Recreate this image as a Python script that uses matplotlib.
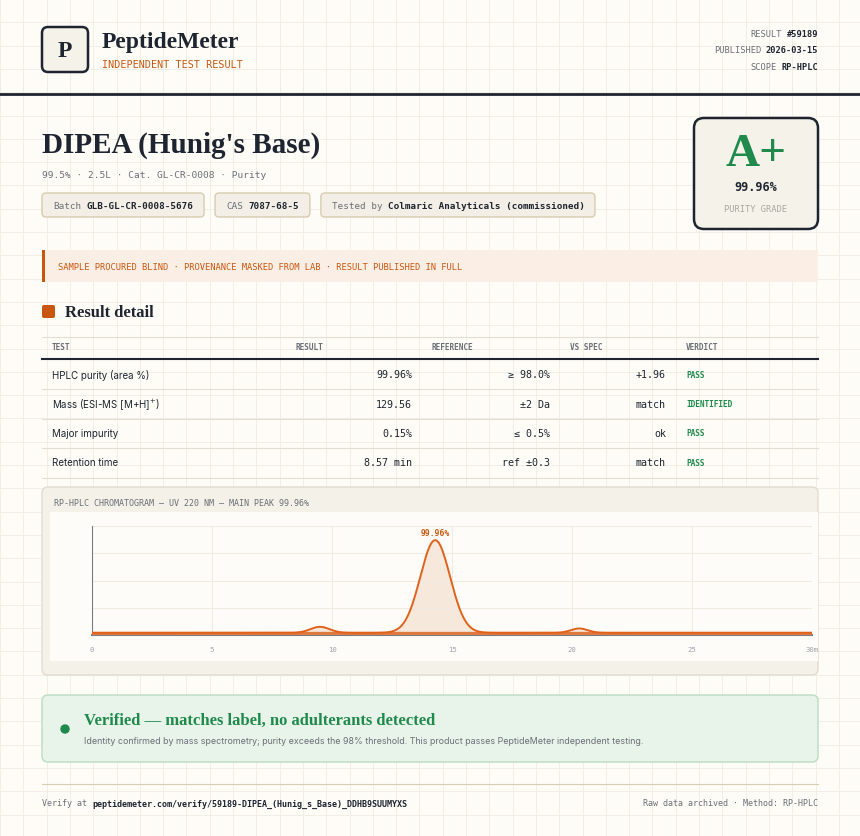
import numpy as np
import matplotlib.pyplot as plt
from matplotlib.patches import FancyBboxPatch, Rectangle

# ---- data ----
meta_labels = ["RESULT", "PUBLISHED", "SCOPE"]
meta_values = ["#59189", "2026-03-15", "RP-HPLC"]
chips = [("Batch", "GLB-GL-CR-0008-5676"), ("CAS", "7087-68-5"),
         ("Tested by", "Colmaric Analyticals (commissioned)")]
table_cols = ["TEST", "RESULT", "REFERENCE", "VS SPEC", "VERDICT"]
tests = ["HPLC purity (area %)", "Mass (ESI-MS [M+H]$^{+}$)", "Major impurity", "Retention time"]
results = ["99.96%", "129.56", "0.15%", "8.57 min"]
references = ["≥ 98.0%", "±2 Da", "≤ 0.5%", "ref ±0.3"]
vs_spec = ["+1.96", "match", "ok", "match"]
verdicts = ["PASS", "IDENTIFIED", "PASS", "PASS"]
# chromatogram peaks: retention time (min), height, width (sigma)
peak_rt = [9.5, 14.3, 20.3]
peak_h = [0.22, 3.4, 0.16]
peak_w = [0.4, 0.62, 0.35]
baseline = 0.08
x_ticks = [0, 5, 10, 15, 20, 25, 30]

W, H = 860, 837
DARK = "#1e2530"; ORANGE = "#c9560f"; GREEN = "#1f8a4c"; GREY = "#6b6f76"
MONO = "DejaVu Sans Mono"; SERIF = "Liberation Serif"; SANS = "Inter"

fig = plt.figure(figsize=(8.6, 8.37), dpi=100, facecolor="#fdfcf7")
bg = fig.add_axes([0, 0, 1, 1])
bg.set_xlim(0, W); bg.set_ylim(H, 0); bg.axis("off")

for gx in np.arange(0, W, 23.3):
    bg.axvline(gx, color="#efece3", lw=0.6, zorder=0)
for gy in np.arange(0, H, 23.3):
    bg.axhline(gy, color="#efece3", lw=0.6, zorder=0)

def box(x0, y0, x1, y1, fc, ec, lw=1, r=4, z=1):
    bg.add_patch(FancyBboxPatch((x0, y0), x1 - x0, y1 - y0, boxstyle=f"round,pad=0,rounding_size={r}",
                                fc=fc, ec=ec, lw=lw, zorder=z))

def cw(size):  # mono char width in px
    return 0.602 * size / 72 * 100

# header
box(42, 28, 88, 73, "#f5f2ea", DARK, lw=1.8, r=6)
bg.text(65, 51, "P", family=SERIF, weight="bold", fontsize=17, color=DARK, ha="center", va="center")
bg.text(102, 42, "PeptideMeter", family=SERIF, weight="bold", fontsize=17, color=DARK, va="center")
bg.text(102, 65, "INDEPENDENT TEST RESULT", family=MONO, fontsize=7.3, color=ORANGE, va="center")
for i, (lab, val) in enumerate(zip(meta_labels, meta_values)):
    y = 34 + i * 16.5
    bg.text(818, y, val, family=MONO, weight="bold", fontsize=6.2, color=DARK, ha="right", va="center")
    bg.text(818 - cw(6.2) * (len(val) + 1), y, lab, family=MONO, fontsize=6.2, color=GREY, ha="right", va="center")
bg.plot([0, W], [95, 95], color=DARK, lw=2)

# title block
bg.text(42, 145, "DIPEA (Hunig's Base)", family=SERIF, weight="bold", fontsize=21, color=DARK, va="center")
bg.text(42, 175, "99.5% · 2.5L · Cat. GL-CR-0008 · Purity", family=MONO, fontsize=6.8, color=GREY, va="center")
cx = 42
for lab, val in chips:
    wpx = cw(6.7) * (len(lab) + len(val) + 1) + 22
    box(cx, 194, cx + wpx, 218, "#f3efe6", "#d9ccb0", r=4)
    bg.text(cx + 11, 206, lab, family=MONO, fontsize=6.7, color=GREY, va="center")
    bg.text(cx + 11 + cw(6.7) * (len(lab) + 1), 206, val, family=MONO, weight="bold", fontsize=6.7, color=DARK, va="center")
    cx += wpx + 11

# grade box
box(694, 119, 818, 230, "#f5f2ea", DARK, lw=1.8, r=10)
bg.text(756, 155, "A+", family=SERIF, weight="bold", fontsize=34, color=GREEN, ha="center", va="center")
bg.text(756, 187, "99.96%", family=MONO, weight="bold", fontsize=8.5, color=DARK, ha="center", va="center")
bg.text(756, 209, "PURITY GRADE", family=MONO, fontsize=6.3, color="#a9a79f", ha="center", va="center")

# banner
bg.add_patch(Rectangle((42, 251), 776, 32, fc="#fbeee4", ec="none", zorder=1))
bg.add_patch(Rectangle((42, 251), 3, 32, fc=ORANGE, ec="none", zorder=2))
bg.text(58, 267, "SAMPLE PROCURED BLIND · PROVENANCE MASKED FROM LAB · RESULT PUBLISHED IN FULL",
        family=MONO, fontsize=6.3, color=ORANGE, va="center")

# result detail table
box(42, 306, 55, 319, ORANGE, "none", r=2)
bg.text(65, 313, "Result detail", family=SERIF, weight="bold", fontsize=12, color=DARK, va="center")
col_x = [52, 296, 431, 570, 686]
for x, c in zip(col_x, table_cols):
    bg.text(x, 347, c, family=MONO, fontsize=5.6, color=GREY, va="center", weight="bold")
bg.plot([42, 818], [338, 338], color="#e3dfd4", lw=0.8)
bg.plot([42, 818], [360, 360], color=DARK, lw=1.5)
for i in range(len(tests)):
    y = 375 + i * 29.5
    bg.text(52, y, tests[i], family=SANS, fontsize=7, color=DARK, va="center")
    bg.text(412, y, results[i], family=MONO, fontsize=7.2, color=DARK, va="center", ha="right")
    bg.text(550, y, references[i], family=MONO, fontsize=7.2, color=DARK, va="center", ha="right")
    bg.text(666, y, vs_spec[i], family=MONO, fontsize=7.2, color=DARK, va="center", ha="right")
    bg.text(686, y, verdicts[i], family=MONO, fontsize=5.6, weight="bold", color=GREEN, va="center")
    bg.plot([42, 818], [y + 15, y + 15], color="#e3dfd4", lw=0.8)

# chromatogram panel
box(42, 488, 818, 676, "#f4f1e9", "#e0dccf", r=6)
bg.text(54, 503, "RP-HPLC CHROMATOGRAM — UV 220 NM — MAIN PEAK 99.96%", family=MONO, fontsize=6, color=GREY, va="center")
bg.add_patch(Rectangle((50, 513), 768, 149, fc="#fdfcf8", ec="none", zorder=1))

ax = fig.add_axes([92 / W, 1 - 636 / H, 720 / W, 109 / H])
ax.set_facecolor("none")
t = np.linspace(0, 30, 1200)
signal = baseline + sum(h * np.exp(-0.5 * ((t - rt) / w) ** 2) for rt, h, w in zip(peak_rt, peak_h, peak_w))
ax.fill_between(t, baseline, signal, color="#f6e3d5", alpha=0.8, lw=0)
ax.axhline(baseline, color="#e07a40", lw=2.4, zorder=3)
ax.plot(t, signal, color="#e0621a", lw=1.4, zorder=4)
ax.set_xlim(0, 30); ax.set_ylim(0, 4)
ax.set_xticks(x_ticks)
ax.set_xticklabels([str(v) for v in x_ticks[:-1]] + ["30m"])
ax.set_yticks([1, 2, 3, 4]); ax.set_yticklabels([])
ax.grid(True, color="#eeebe2", lw=0.8)
ax.tick_params(length=0, labelsize=5.2, labelcolor="#a0a3aa", pad=8)
for lbl in ax.get_xticklabels():
    lbl.set_family(MONO)
for s in ["top", "right"]:
    ax.spines[s].set_visible(False)
ax.spines["left"].set_color("#7a7d82"); ax.spines["bottom"].set_color("#7a7d82")
ax.spines["bottom"].set_linewidth(1.5)
ax.text(peak_rt[1], baseline + peak_h[1] + 0.12, "99.96%", family=MONO, weight="bold", fontsize=5.8,
        color=ORANGE, ha="center", va="bottom")

# verified box
box(42, 696, 818, 763, "#e8f3ea", "#bcdcc5", r=6)
bg.add_patch(plt.Circle((65, 730), 4, color=GREEN, zorder=3))
bg.text(84, 721, "Verified — matches label, no adulterants detected", family=SERIF, weight="bold",
        fontsize=12, color=GREEN, va="center")
bg.text(84, 742, "Identity confirmed by mass spectrometry; purity exceeds the 98% threshold. This product passes PeptideMeter independent testing.",
        family=SANS, fontsize=6.4, color=GREY, va="center")

# footer
bg.plot([42, 818], [785, 785], color="#d9ccb0", lw=0.8)
bg.text(42, 804, "Verify at", family=MONO, fontsize=6, color=GREY, va="center")
bg.text(42 + cw(6) * 10, 804, "peptidemeter.com/verify/59189-DIPEA_(Hunig_s_Base)_DDHB9SUUMYXS",
        family=MONO, fontsize=6, weight="bold", color=DARK, va="center")
bg.text(818, 804, "Raw data archived · Method: RP-HPLC", family=MONO, fontsize=6, color=GREY, va="center", ha="right")

fig.savefig("out.png", dpi=100, facecolor=fig.get_facecolor())
